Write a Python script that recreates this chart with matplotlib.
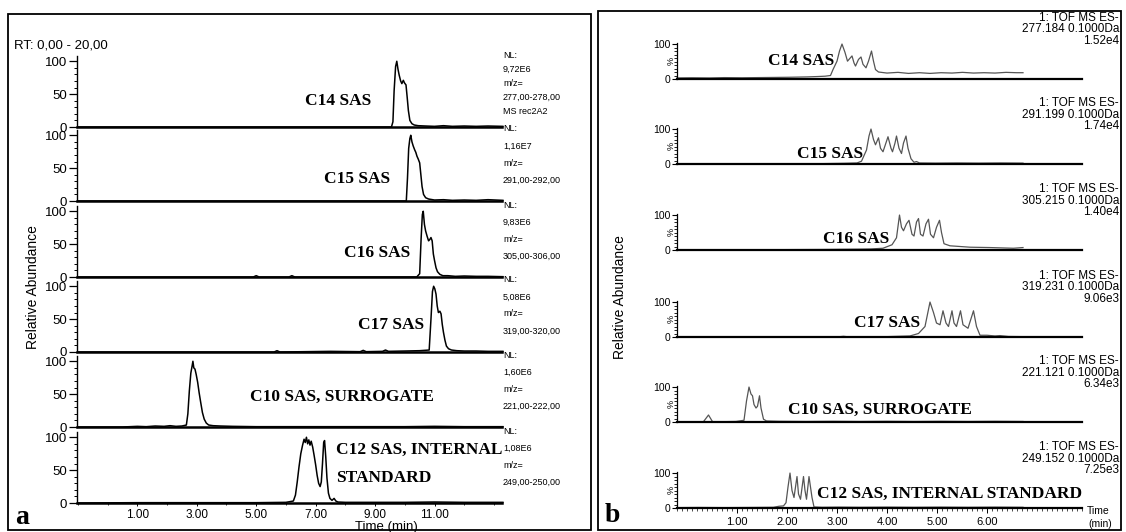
import matplotlib
matplotlib.use("Agg")
import matplotlib.pyplot as plt
from matplotlib.patches import Rectangle
from matplotlib.ticker import FixedLocator, MultipleLocator

# ---- panel a: Xcalibur extracted ion chromatograms (time in min, relative %) ----
left_c14_t = [-1.0, 0.5, 2.0, 4.0, 6.0, 8.0, 9.3, 9.55, 9.60, 9.64, 9.69, 9.73, 9.77, 9.81, 9.86, 9.90, 9.95,
              9.99, 10.04, 10.08, 10.12, 10.17, 10.24, 10.32, 10.45, 10.7, 11.0, 11.3, 11.6, 12.0, 12.4, 12.8, 13.3]
left_c14_y = [0, 0, 0, 0, 0, 0, 0, 0, 8, 55, 92, 100, 88, 79, 70, 66, 71,
              67, 64, 45, 25, 10, 5, 3, 2, 1.5, 1, 2, 1, 1.5, 1, 1.5, 1]

left_c15_t = [-1.0, 4.0, 8.0, 9.9, 10.05, 10.09, 10.13, 10.17, 10.20, 10.24, 10.28, 10.33, 10.37, 10.41, 10.45,
              10.50, 10.54, 10.58, 10.63, 10.70, 10.80, 11.0, 11.3, 11.6, 12.0, 12.4, 12.8, 13.3]
left_c15_y = [0, 0, 0, 0, 0, 35, 80, 95, 100, 90, 84, 78, 74, 68, 64,
              58, 40, 22, 10, 5, 3, 1.5, 2, 1, 1.5, 1, 2, 1]

left_c16_t = [-1.0, 4.9, 5.0, 5.1, 6.1, 6.2, 6.3, 9.0, 10.4, 10.50, 10.55, 10.59, 10.62, 10.66, 10.70, 10.75,
              10.80, 10.84, 10.88, 10.92, 10.96, 11.00, 11.05, 11.10, 11.18, 11.28, 11.45, 11.7, 12.0, 12.4, 12.8, 13.3]
left_c16_y = [0, 0, 2, 0, 0, 2, 0, 0, 0, 5, 60, 95, 100, 80, 70, 62,
              55, 57, 60, 55, 35, 25, 14, 8, 4, 2, 2, 1, 1.5, 1, 1, 0.5]

left_c17_t = [-1.0, 3.0, 5.6, 5.7, 5.8, 7.5, 8.5, 8.6, 8.7, 9.25, 9.35, 9.45, 10.0, 10.5, 10.82, 10.88, 10.93,
              10.97, 11.01, 11.05, 11.09, 11.13, 11.18, 11.22, 11.26, 11.30, 11.35, 11.40, 11.47, 11.57, 11.75,
              12.0, 12.4, 12.8, 13.3]
left_c17_y = [0, 0, 0, 2, 0, 1, 0.5, 2.5, 0.5, 1, 3, 1, 1.5, 2, 3, 50, 92,
              100, 96, 88, 70, 60, 62, 58, 42, 30, 18, 9, 5, 3, 2,
              1.5, 1.5, 1, 1]

left_c10_t = [-1.0, 0.5, 1.0, 1.3, 1.6, 1.9, 2.1, 2.3, 2.5, 2.65, 2.70, 2.75, 2.80, 2.84, 2.87, 2.90, 2.94, 2.98,
              3.03, 3.08, 3.13, 3.19, 3.25, 3.32, 3.40, 3.55, 3.8, 4.2, 5.0, 6.0, 7.0, 8.0, 9.0, 10.0, 11.0, 12.0, 13.3]
left_c10_y = [0, 0, 1, 0.5, 1.5, 1, 2, 1, 1.5, 3, 20, 55, 82, 92, 100, 90, 88, 80,
              68, 52, 38, 22, 12, 6, 3, 2, 1.5, 1, 0.5, 0.5, 0.5, 0.5, 0.5, 0.5, 1, 0.5, 0.5]

left_c12_t = [-1.0, 1.0, 3.0, 5.0, 6.0, 6.25, 6.32, 6.38, 6.44, 6.50, 6.56, 6.61, 6.65, 6.69, 6.73, 6.77, 6.81,
              6.85, 6.90, 6.95, 7.00, 7.05, 7.10, 7.15, 7.19, 7.23, 7.27, 7.30, 7.34, 7.38, 7.43, 7.48, 7.55,
              7.62, 7.68, 7.75, 8.0, 9.0, 10.0, 11.0, 12.0, 13.3]
left_c12_y = [0, 0.5, 0.5, 0.5, 1, 3, 12, 32, 55, 75, 88, 97, 92, 100, 90, 96, 88,
              94, 85, 72, 58, 42, 30, 25, 32, 60, 92, 95, 70, 38, 15, 7, 4,
              7, 3, 1.5, 1, 1, 1, 1.5, 1, 1]

left_names = ["C14 SAS", "C15 SAS", "C16 SAS", "C17 SAS", "C10 SAS, SURROGATE", "C12 SAS, INTERNAL\nSTANDARD"]
left_nl = ["9,72E6", "1,16E7", "9,83E6", "5,08E6", "1,60E6", "1,08E6"]
left_mz = ["277,00-278,00", "291,00-292,00", "305,00-306,00", "319,00-320,00", "221,00-222,00", "249,00-250,00"]
left_ticks = [1, 3, 5, 7, 9, 11]

# ---- panel b: MassLynx TOF traces ----
right_c14_t = [-0.2, 0.1, 0.45, 0.75, 1.1, 1.4, 1.75, 2.05, 2.4, 2.6, 2.76, 2.87, 2.92, 3.00, 3.05, 3.10, 3.16,
               3.21, 3.24, 3.30, 3.34, 3.37, 3.43, 3.48, 3.52, 3.58, 3.63, 3.69, 3.73, 3.77, 3.83, 4.0, 4.22,
               4.43, 4.65, 4.86, 5.08, 5.3, 5.51, 5.73, 5.94, 6.16, 6.38, 6.59, 6.72]
right_c14_y = [3, 3.5, 3, 4, 3.5, 4, 4.5, 5, 6, 7, 8, 10, 27, 51, 80, 100, 76,
               51, 56, 66, 46, 37, 56, 63, 42, 32, 51, 80, 51, 27, 20, 17, 19,
               16, 18, 16, 18, 17, 19, 17, 18, 17, 19, 18, 18]

right_c15_t = [-0.2, 0.76, 1.84, 2.70, 3.14, 3.40, 3.49, 3.59, 3.64, 3.68, 3.73, 3.77, 3.83, 3.87, 3.92, 3.99,
               4.02, 4.08, 4.11, 4.16, 4.19, 4.24, 4.29, 4.33, 4.38, 4.42, 4.48, 4.54, 4.59, 4.65, 4.97, 5.40,
               5.84, 6.27, 6.72]
right_c15_y = [0.5, 1, 0.5, 1, 2, 3, 8, 40, 80, 100, 70, 55, 75, 45, 35, 65,
               78, 45, 35, 60, 80, 45, 30, 60, 80, 45, 15, 5, 7, 3, 2.5, 3,
               2.5, 3, 2.5]

right_c16_t = [-0.2, 0.76, 1.84, 2.70, 3.03, 3.46, 3.68, 3.92, 4.10, 4.19, 4.25, 4.29, 4.33, 4.39, 4.44, 4.50,
               4.54, 4.59, 4.63, 4.67, 4.72, 4.78, 4.83, 4.87, 4.93, 4.99, 5.05, 5.09, 5.14, 5.26, 5.66, 6.06,
               6.53, 6.72]
right_c16_y = [0.5, 0.5, 1, 1.5, 2, 2.5, 3, 5, 15, 35, 100, 65, 55, 75, 85, 45,
               40, 80, 90, 45, 40, 75, 88, 45, 35, 65, 85, 50, 18, 12, 8, 7,
               5, 7]

right_c17_t = [-0.2, 1.30, 3.03, 3.13, 3.22, 4.00, 4.46, 4.63, 4.76, 4.86, 4.93, 4.99, 5.06, 5.12, 5.18, 5.23,
               5.30, 5.34, 5.39, 5.47, 5.52, 5.62, 5.73, 5.79, 5.86, 6.00, 6.16, 6.26, 6.43, 6.72]
right_c17_y = [0.5, 0.5, 0.5, 2, 0.5, 1, 3, 10, 30, 100, 70, 40, 35, 75, 40, 30,
               75, 40, 30, 75, 35, 25, 75, 30, 5, 5, 3, 4, 1.5, 1]

right_c10_t = [-0.2, 0.11, 0.33, 0.43, 0.51, 0.76, 0.98, 1.14, 1.19, 1.24, 1.28, 1.31, 1.34, 1.38, 1.41, 1.45,
               1.48, 1.53, 1.59, 1.84, 2.38, 2.92, 3.46, 4.00, 4.54, 5.08, 5.62, 6.16, 6.72]
right_c10_y = [0.5, 1, 1, 20, 1, 1, 1.5, 5, 60, 100, 80, 75, 50, 40, 45, 75,
               40, 8, 3, 2, 1.5, 2, 1.5, 2, 1.5, 2, 1.5, 2, 1.5]

right_c12_t = [-0.2, 0.22, 0.76, 1.30, 1.73, 1.84, 1.93, 1.98, 2.02, 2.06, 2.10, 2.14, 2.20, 2.23, 2.27, 2.33,
               2.36, 2.39, 2.44, 2.50, 2.54, 2.70, 3.03, 3.46, 4.00, 4.54, 5.08, 5.62, 6.16, 6.72]
right_c12_y = [1, 1.5, 1, 1.5, 2, 5, 6, 15, 60, 100, 50, 30, 90, 40, 25, 90,
               50, 25, 90, 30, 3, 2, 2.5, 2, 2.5, 2, 2.5, 2, 2.5, 2]

right_names = ["C14 SAS", "C15 SAS", "C16 SAS", "C17 SAS", "C10 SAS, SURROGATE", "C12 SAS, INTERNAL STANDARD"]
right_mass = ["277.184", "291.199", "305.215", "319.231", "221.121", "249.152"]
right_int = ["1.52e4", "1.74e4", "1.40e4", "9.06e3", "6.34e3", "7.25e3"]
right_ticks = [1, 2, 3, 4, 5, 6]

left_traces = [(left_c14_t, left_c14_y), (left_c15_t, left_c15_y), (left_c16_t, left_c16_y),
               (left_c17_t, left_c17_y), (left_c10_t, left_c10_y), (left_c12_t, left_c12_y)]
right_traces = [(right_c14_t, right_c14_y), (right_c15_t, right_c15_y), (right_c16_t, right_c16_y),
                (right_c17_t, right_c17_y), (right_c10_t, right_c10_y), (right_c12_t, right_c12_y)]

W, H = 1126, 532
SANS = "Liberation Sans"
SERIF = "Liberation Serif"
LABEL_SIZE = 12.5

fig = plt.figure(figsize=(W / 100, H / 100), dpi=100)
fig.patch.set_facecolor("white")


def px_axes(x0, x1, y_top, y_bot):
    """Axes from a pixel box measured from the top-left corner."""
    return fig.add_axes([x0 / W, 1 - y_bot / H, (x1 - x0) / W, (y_bot - y_top) / H])


def px_text(x, y, s, **kw):
    kw.setdefault("family", SANS)
    return fig.text(x / W, 1 - y / H, s, **kw)


# panel frames
for x0, y0, x1, y1 in [(8, 14, 591, 530), (598, 11, 1121, 530)]:
    fig.patches.append(Rectangle((x0 / W, 1 - y1 / H), (x1 - x0) / W, (y1 - y0) / H,
                                 transform=fig.transFigure, fill=False, edgecolor="black", linewidth=1.3))

# ---- panel a ----
left_zero = [127, 201, 277, 352, 427, 503]
for i, (t, y) in enumerate(left_traces):
    z = left_zero[i]
    ax = px_axes(77, 502, z - 71, z)
    ax.plot(t, y, color="black", linewidth=1.1, clip_on=False)
    ax.set_xlim(-1.03, 13.27)
    ax.set_ylim(0, 108)
    ax.patch.set_visible(False)
    for side in ("top", "right"):
        ax.spines[side].set_visible(False)
    ax.spines["bottom"].set_linewidth(1.8)
    ax.spines["left"].set_linewidth(1.0)
    ax.yaxis.set_major_locator(FixedLocator([0, 50, 100]))
    ax.yaxis.set_minor_locator(MultipleLocator(10))
    ax.tick_params(axis="y", which="major", length=5.5, width=0.9, pad=1.5, labelsize=9.5)
    ax.tick_params(axis="y", which="minor", length=2.5, width=0.7)
    for lab in ax.get_yticklabels():
        lab.set_family(SANS)
    if i == len(left_traces) - 1:
        ax.xaxis.set_major_locator(FixedLocator(left_ticks))
        ax.set_xticklabels([f"{v:.2f}" for v in left_ticks], family=SANS)
        ax.xaxis.set_minor_locator(MultipleLocator(1))
        ax.tick_params(axis="x", which="major", length=2.5, width=0.7, pad=2, labelsize=8.5)
        ax.tick_params(axis="x", which="minor", length=1.5, width=0.6)
    else:
        ax.set_xticks([])
    ax.set_zorder(10 - i)

    # NL / m/z block at the right of each trace
    lines = ["NL:", left_nl[i], "m/z=", left_mz[i]] + (["MS rec2A2"] if i == 0 else [])
    step = 14 if i == 0 else 17
    for k, s in enumerate(lines):
        px_text(503, z - 72 + k * step, s, fontsize=6.5, va="center", ha="left")

left_label_pos = [(338, 101), (357, 179), (377, 253), (391, 325), (342, 397)]
for name, (x, y) in zip(left_names[:5], left_label_pos):
    px_text(x, y, name, family=SERIF, fontweight="bold", fontsize=LABEL_SIZE, ha="center", va="center")
line1, line2 = left_names[5].split("\n")
px_text(336, 450, line1, family=SERIF, fontweight="bold", fontsize=LABEL_SIZE, ha="left", va="center")
px_text(336, 478, line2, family=SERIF, fontweight="bold", fontsize=LABEL_SIZE, ha="left", va="center")

px_text(14, 45, "RT: 0,00 - 20,00", fontsize=9.5, ha="left", va="center")
px_text(33, 287, "Relative Abundance", fontsize=10, rotation=90, ha="center", va="center")
px_text(386, 527, "Time (min)", fontsize=9.5, ha="center", va="center")
px_text(22, 517, "a", family=SERIF, fontweight="bold", fontsize=20, ha="center", va="center")

# ---- panel b ----
right_zero = [79, 164, 250, 337, 422, 508]
for i, (t, y) in enumerate(right_traces):
    z = right_zero[i]
    ax = px_axes(677, 1082, z - 36, z)
    ax.plot(t, y, color="#555555", linewidth=0.9, clip_on=False)
    ax.set_xlim(-0.2, 7.9)
    ax.set_ylim(0, 103)
    ax.patch.set_visible(False)
    for side in ("top", "right"):
        ax.spines[side].set_visible(False)
    ax.spines["bottom"].set_linewidth(1.6)
    ax.spines["left"].set_linewidth(0.9)
    ax.yaxis.set_major_locator(FixedLocator([0, 100]))
    ax.yaxis.set_minor_locator(MultipleLocator(10))
    ax.tick_params(axis="y", which="major", length=3.5, width=0.8, pad=1, labelsize=7.5)
    ax.tick_params(axis="y", which="minor", length=2, width=0.6)
    for lab in ax.get_yticklabels():
        lab.set_family(SANS)
    px_text(671, z - 18, "%", fontsize=6.5, rotation=90, ha="center", va="center")
    if i == len(right_traces) - 1:
        ax.xaxis.set_major_locator(FixedLocator(right_ticks))
        ax.set_xticklabels([f"{v:.2f}" for v in right_ticks], family=SANS)
        ax.xaxis.set_minor_locator(MultipleLocator(0.1))
        ax.tick_params(axis="x", which="major", length=3.5, width=0.7, pad=3, labelsize=8)
        ax.tick_params(axis="x", which="minor", length=2, width=0.5)
    else:
        ax.set_xticks([])

    for k, s in enumerate(["1: TOF MS ES-", f"{right_mass[i]} 0.1000Da", right_int[i]]):
        px_text(1119, z - 61 + k * 11.5, s, fontsize=8.5, ha="right", va="center")

right_label_pos = [(801, 61), (830, 154), (856, 239), (887, 323), (880, 410), (950, 494)]
for name, (x, y) in zip(right_names, right_label_pos):
    px_text(x, y, name, family=SERIF, fontweight="bold", fontsize=LABEL_SIZE, ha="center", va="center")

px_text(620, 297, "Relative Abundance", fontsize=10, rotation=90, ha="center", va="center")
px_text(1098, 511, "Time", fontsize=7.5, ha="center", va="center")
px_text(1100, 524, "(min)", fontsize=7.5, ha="center", va="center")
px_text(612, 515, "b", family=SERIF, fontweight="bold", fontsize=20, ha="center", va="center")

fig.savefig("out.png", dpi=100, facecolor="white")
